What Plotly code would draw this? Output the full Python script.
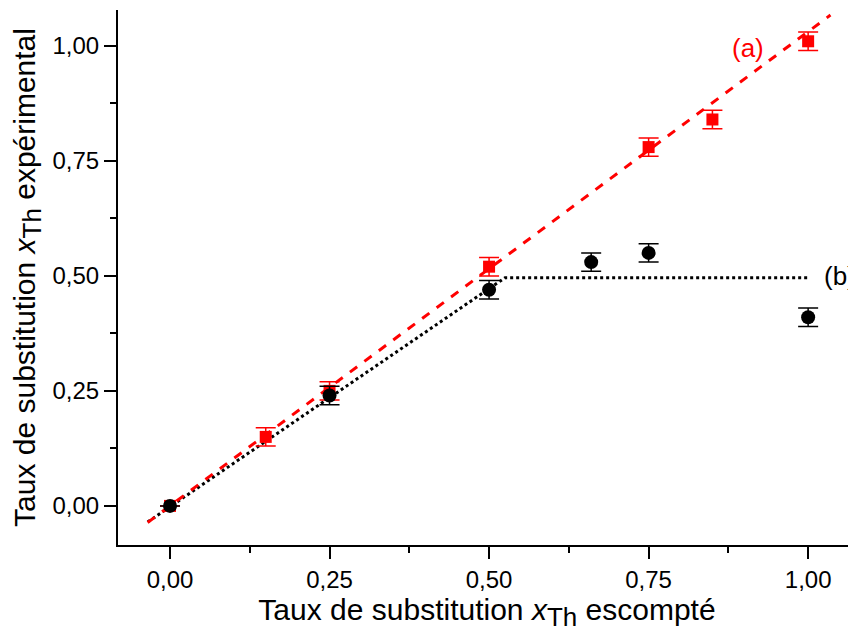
import plotly.graph_objects as go

# Data
x_a = [0.0, 0.15, 0.25, 0.50, 0.75, 0.85, 1.00]
y_a = [0.0, 0.15, 0.25, 0.52, 0.78, 0.84, 1.01]
err_a = [0.0, 0.02, 0.02, 0.02, 0.02, 0.02, 0.02]

x_b = [0.0, 0.25, 0.50, 0.66, 0.75, 1.00]
y_b = [0.0, 0.24, 0.47, 0.53, 0.55, 0.41]
err_b = [0.0, 0.02, 0.02, 0.02, 0.02, 0.02]

line_a_x = [-0.035, 1.035]
line_a_y = [-0.036, 1.067]
line_b_x = [-0.035, 0.525, 1.003]
line_b_y = [-0.035, 0.496, 0.496]

tick_vals = [0.0, 0.25, 0.5, 0.75, 1.0]
tick_text = ["0,00", "0,25", "0,50", "0,75", "1,00"]

FONT = "Liberation Sans, Arial, sans-serif"

fig = go.Figure()

fig.add_trace(go.Scatter(x=line_b_x, y=line_b_y, mode="lines",
                         line=dict(color="black", width=3, dash="dot"), showlegend=False))
fig.add_trace(go.Scatter(x=line_a_x, y=line_a_y, mode="lines",
                         line=dict(color="#ff0000", width=3, dash="dash"), showlegend=False))
fig.add_trace(go.Scatter(x=x_a, y=y_a, mode="markers",
                         marker=dict(symbol="square", size=12, color="#ff0000"),
                         error_y=dict(type="data", array=err_a, color="#ff0000", thickness=1.5, width=10),
                         showlegend=False))
fig.add_trace(go.Scatter(x=x_b, y=y_b, mode="markers",
                         marker=dict(symbol="circle", size=14, color="black"),
                         error_y=dict(type="data", array=err_b, color="black", thickness=1.5, width=10),
                         showlegend=False))

fig.add_annotation(x=0.905, y=0.995, text="(a)", showarrow=False,
                   font=dict(size=26, color="#ff0000", family=FONT))
fig.add_annotation(x=1.05, y=0.50, text="(b)", showarrow=False,
                   font=dict(size=26, color="black", family=FONT))

axis_common = dict(
    showline=True, linecolor="black", linewidth=2, mirror=False,
    ticks="outside", ticklen=12, tickwidth=2, tickcolor="black",
    showgrid=False, zeroline=False,
    tickvals=tick_vals, ticktext=tick_text,
    tickfont=dict(size=24, color="black", family=FONT),
    minor=dict(ticks="outside", ticklen=6, tickwidth=2, tickcolor="black",
               tickvals=[0.125, 0.375, 0.625, 0.875]),
)

SUB = '<i>x</i><sub><span style="font-size:26px">Th</span></sub>'

fig.update_xaxes(range=[-0.0815, 1.075],
                 title=dict(text="Taux de substitution " + SUB + " escompté",
                            font=dict(size=30, color="black", family=FONT),
                            standoff=6),
                 **axis_common)
fig.update_yaxes(range=[-0.085, 1.078],
                 title=dict(text="Taux de substitution " + SUB + " expérimental",
                            font=dict(size=30, color="black", family=FONT),
                            standoff=8),
                 **axis_common)

fig.update_layout(width=856, height=632, plot_bgcolor="white", paper_bgcolor="white",
                  margin=dict(l=110, r=8, t=2, b=95), showlegend=False)

fig.write_html("out.html")
